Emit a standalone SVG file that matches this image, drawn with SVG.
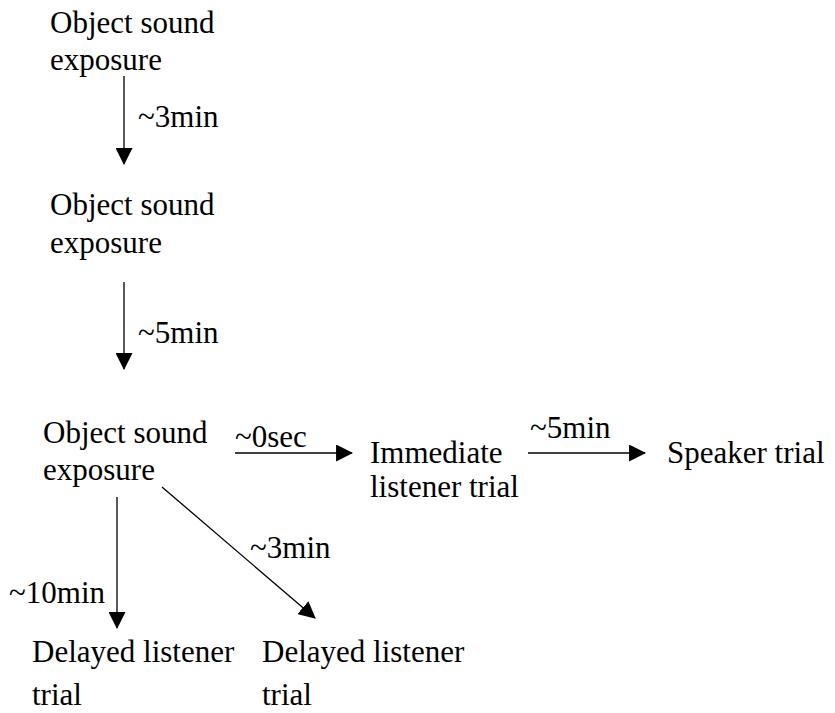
<svg xmlns="http://www.w3.org/2000/svg" width="835" height="713" viewBox="0 0 835 713">
<style>
.c line{stroke:#000;stroke-width:1.3;fill:none;marker-end:url(#ah)}
</style>
<defs>
<marker id="ah" markerUnits="userSpaceOnUse" markerWidth="17" markerHeight="17" viewBox="0 0 16 16" refX="15" refY="8" orient="auto">
<path d="M0,0 L16,8 L0,16 z" fill="#000"/>
</marker>
</defs>
<rect width="835" height="713" fill="#fff"/>
<g font-family="Liberation Serif, Times New Roman, DejaVu Serif, serif" font-size="31" fill="#000">
<g id="n1"><text x="50" y="33">Object sound</text><text x="50" y="70">exposure</text></g>
<g id="n2"><text x="50" y="215">Object sound</text><text x="50" y="253">exposure</text></g>
<g id="n3"><text x="43" y="443">Object sound</text><text x="43" y="480">exposure</text></g>
<g id="n4"><text x="370" y="463">Immediate</text><text x="370" y="497">listener trial</text></g>
<g id="n5"><text x="667" y="463">Speaker trial</text></g>
<g id="n6"><text x="32" y="662">Delayed listener</text><text x="32" y="705">trial</text></g>
<g id="n7"><text x="262" y="662">Delayed listener</text><text x="262" y="705">trial</text></g>
<g id="labels">
<text x="138" y="127">~3min</text>
<text x="138" y="343">~5min</text>
<text x="235" y="447">~0sec</text>
<text x="530" y="438">~5min</text>
<text x="250" y="558">~3min</text>
<text x="9" y="603">~10min</text>
</g>
</g>
<g class="c" id="connectors">
<line x1="124" y1="76" x2="124" y2="164"/>
<line x1="124" y1="282" x2="124" y2="369"/>
<line x1="235" y1="453" x2="352" y2="453"/>
<line x1="528" y1="453" x2="645" y2="453"/>
<line x1="117" y1="497" x2="117" y2="628"/>
<line x1="162" y1="487" x2="315" y2="618"/>
</g>
</svg>
